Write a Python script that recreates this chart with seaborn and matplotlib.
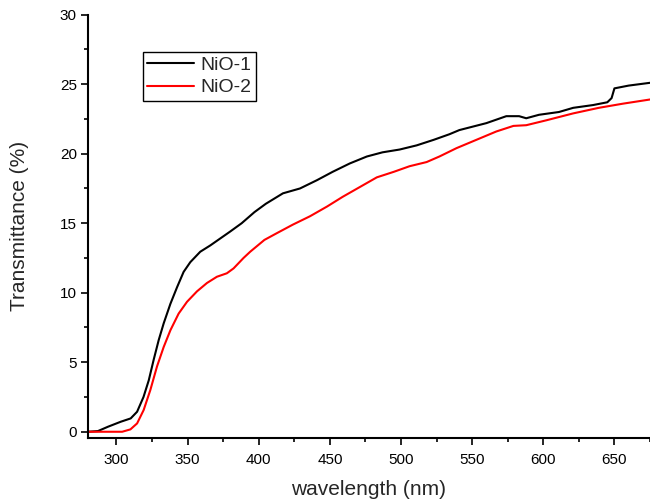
import pandas as pd
import matplotlib
matplotlib.use("Agg")
import matplotlib.pyplot as plt
from matplotlib.ticker import MultipleLocator
import seaborn as sns

# -------------------------
# Data (wavelength nm, transmittance %)
# -------------------------
wl_nio1 = [280, 287, 294, 303, 310, 314.5, 319, 322.7, 326.2, 329.7, 333.2, 337.9, 342.6,
           347.2, 351.9, 358.9, 365.9, 372.9, 379.9, 388, 397, 405, 417, 429, 441, 452,
           464, 476, 487, 499, 511, 523, 534, 541, 560, 574, 583, 588, 597, 611, 621,
           635, 645, 648, 650, 660, 675]
tr_nio1 = [0.0, 0.05, 0.36, 0.72, 0.96, 1.44, 2.5, 3.7, 5.2, 6.6, 7.8, 9.2, 10.4,
           11.5, 12.2, 12.95, 13.4, 13.9, 14.4, 15.0, 15.8, 16.4, 17.15, 17.5, 18.1, 18.7,
           19.3, 19.8, 20.1, 20.3, 20.6, 21.0, 21.4, 21.7, 22.2, 22.7, 22.7, 22.55, 22.8, 23.0, 23.3,
           23.5, 23.7, 24.0, 24.7, 24.9, 25.1]

wl_nio2 = [280, 304, 309.8, 314.5, 319.1, 323.8, 328.5, 333.2, 337.9, 343.7, 349.6,
           356.6, 363.6, 370.6, 377.6, 382.3, 389.3, 394, 404, 413, 424, 436, 448, 459,
           471, 483, 495, 506, 518, 527, 539, 553, 567, 579, 588, 602, 621, 639, 656, 675]
tr_nio2 = [0.0, 0.0, 0.17, 0.6, 1.56, 3.0, 4.7, 6.1, 7.3, 8.5, 9.35,
           10.1, 10.7, 11.15, 11.4, 11.75, 12.5, 12.95, 13.8, 14.3, 14.9, 15.5, 16.2, 16.9,
           17.6, 18.3, 18.7, 19.1, 19.4, 19.8, 20.4, 21.0, 21.6, 22.0, 22.05, 22.4, 22.9, 23.3, 23.6, 23.9]

series_names = ["NiO-1", "NiO-2"]
series_colors = ["black", "red"]

df = pd.concat([
    pd.DataFrame({"wavelength": wl_nio1, "T": tr_nio1, "sample": series_names[0]}),
    pd.DataFrame({"wavelength": wl_nio2, "T": tr_nio2, "sample": series_names[1]}),
], ignore_index=True)

# -------------------------
# Style
# -------------------------
sns.set_style("ticks")
plt.rcParams["font.family"] = ["Liberation Sans", "DejaVu Sans"]
plt.rcParams["axes.linewidth"] = 1.5
for ax_name in ["xtick", "ytick"]:
    plt.rcParams[f"{ax_name}.major.size"] = 5
    plt.rcParams[f"{ax_name}.minor.size"] = 3
    plt.rcParams[f"{ax_name}.major.width"] = 1.2
    plt.rcParams[f"{ax_name}.minor.width"] = 1.2
    plt.rcParams[f"{ax_name}.color"] = "black"
    plt.rcParams[f"{ax_name}.direction"] = "out"

fig = plt.figure(figsize=(6.5, 5.03), dpi=100)
ax = fig.add_axes([0.1354, 0.1292, 0.8646, 0.8416])

sns.lineplot(data=df, x="wavelength", y="T", hue="sample",
             palette=dict(zip(series_names, series_colors)),
             estimator=None, sort=False, linewidth=1.5, ax=ax)

ax.set_xlim(280, 675)
ax.set_ylim(-0.45, 30)
ax.xaxis.set_major_locator(MultipleLocator(50))
ax.xaxis.set_minor_locator(MultipleLocator(25))
ax.yaxis.set_major_locator(MultipleLocator(5))
ax.yaxis.set_minor_locator(MultipleLocator(2.5))
ax.tick_params(axis="both", which="major", labelsize=11)
ax.tick_params(axis="y", which="both", pad=3)
ax.tick_params(axis="x", which="both", pad=6)

sns.despine(ax=ax, top=True, right=True)
for s in ["left", "bottom"]:
    ax.spines[s].set_color("black")

ax.set_xlabel("wavelength (nm)", fontsize=15, labelpad=9)
ax.set_ylabel("Transmittance (%)", fontsize=15, labelpad=22)

leg = ax.legend(loc="upper left", bbox_to_anchor=(0.097, 0.913), borderaxespad=0,
                fontsize=14, frameon=True, fancybox=False, edgecolor="black",
                handlelength=2.4, handletextpad=0.3, labelspacing=0.25,
                borderpad=0.25, title=None)
leg.get_frame().set_linewidth(1.0)
leg.get_frame().set_alpha(1)

fig.savefig("out.png", dpi=100)
